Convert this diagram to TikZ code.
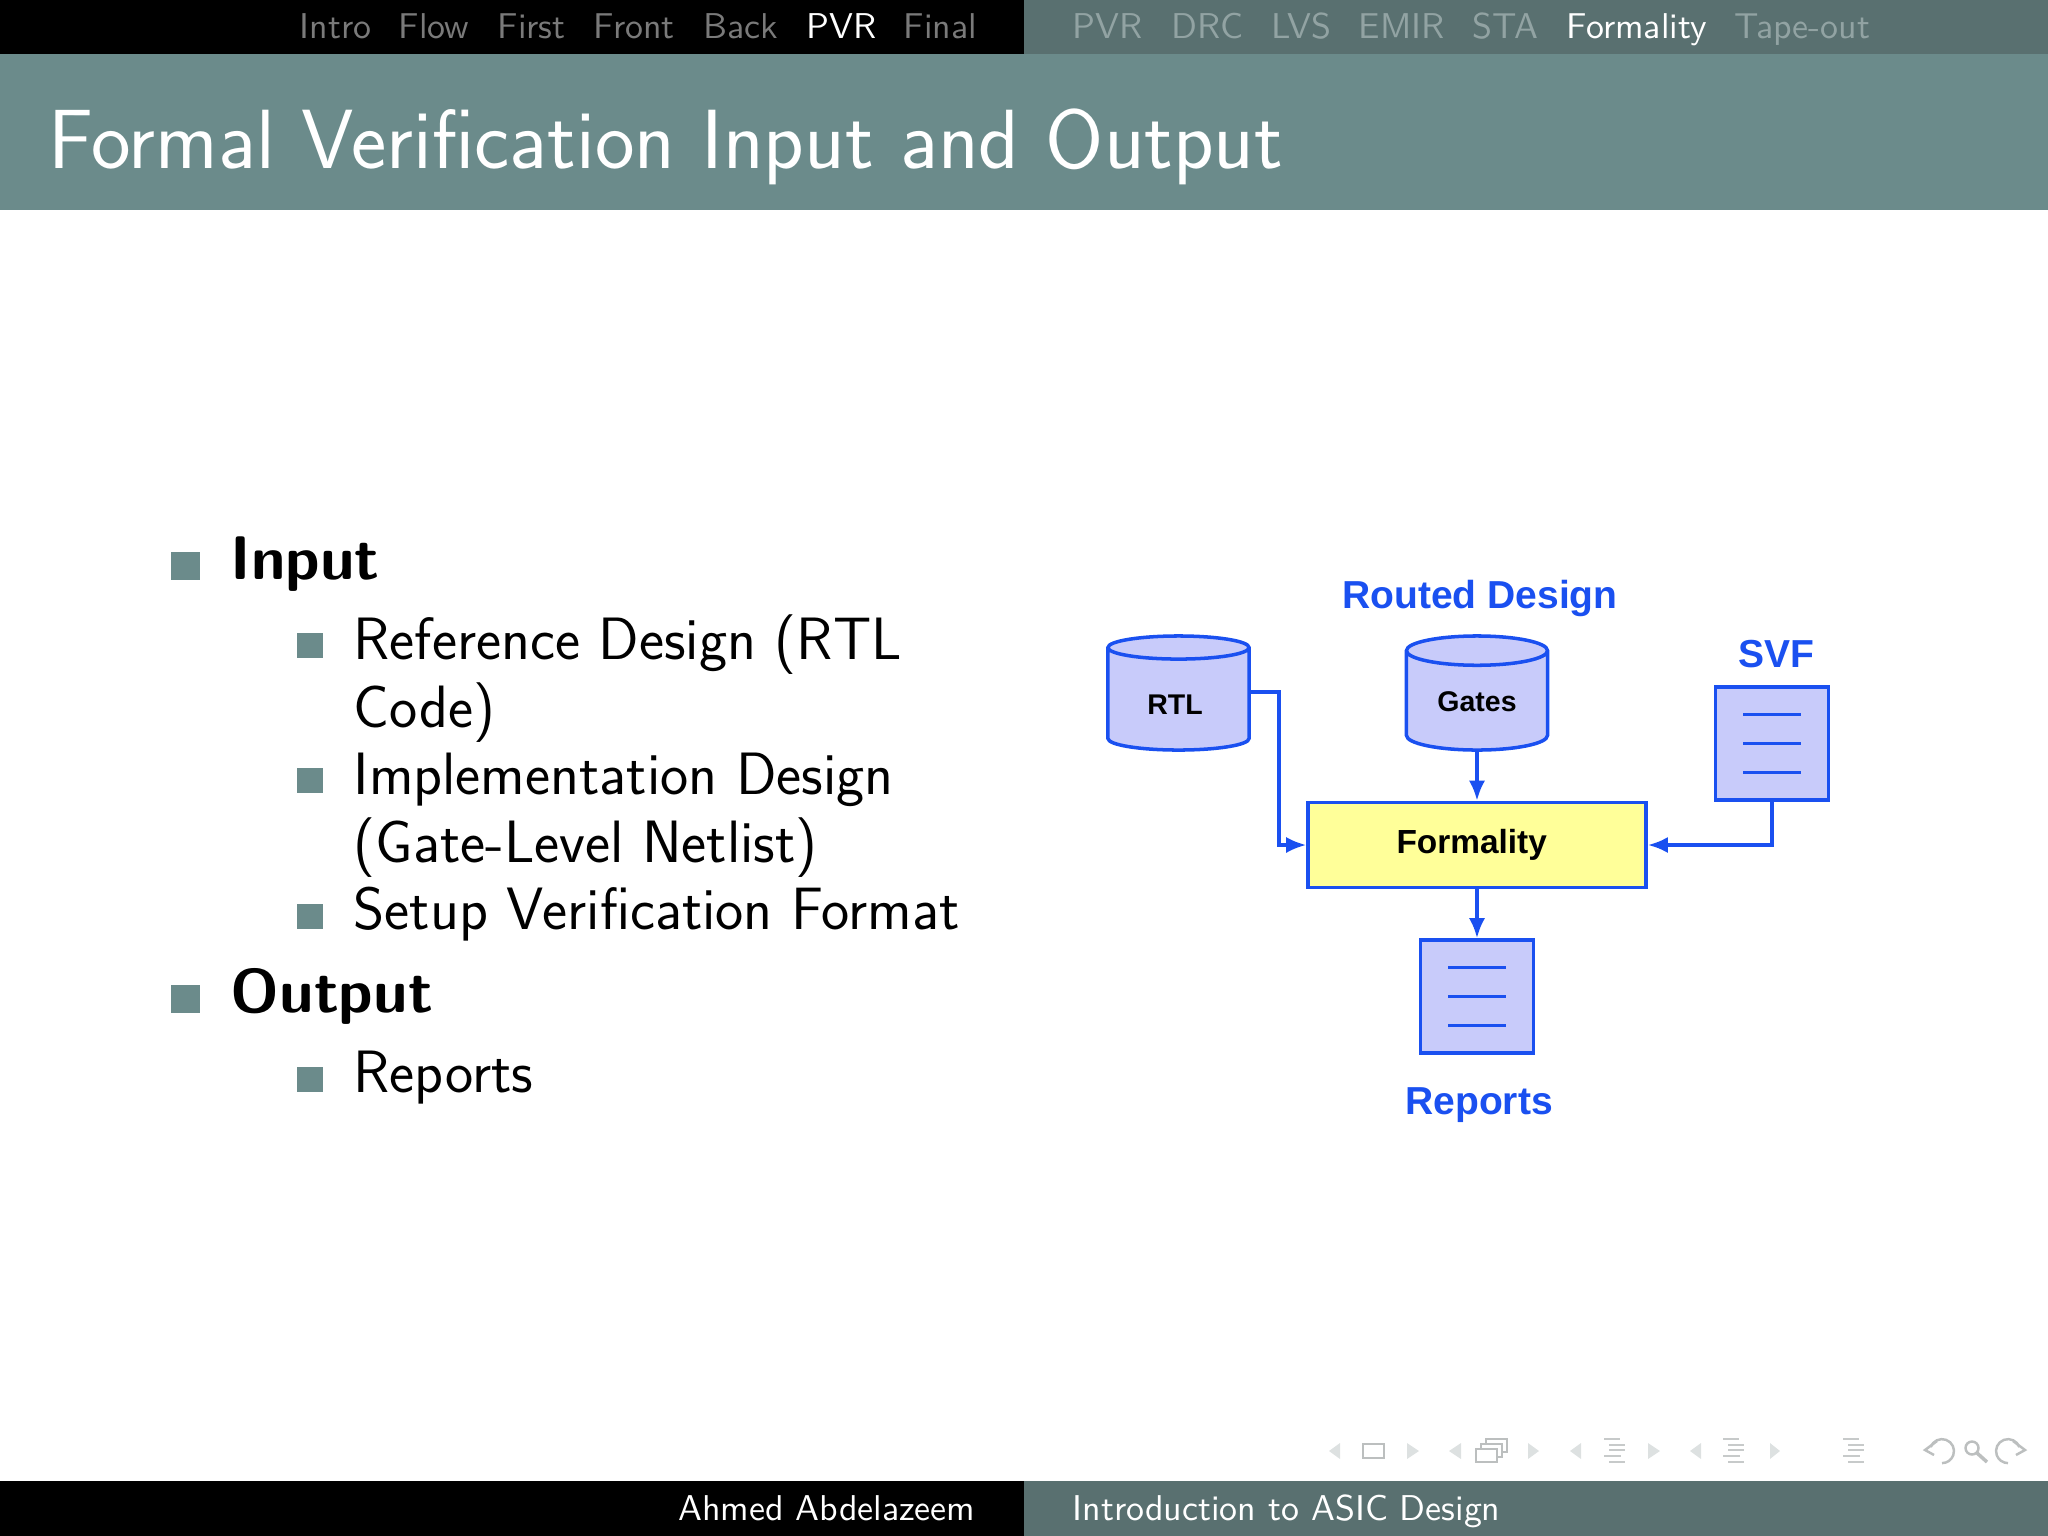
\documentclass[tikz,border=0pt]{standalone}
\usepackage{amsmath}
\usetikzlibrary{shapes.geometric,calc,arrows.meta}
\usepackage{fontspec}
\setmainfont{Latin Modern Sans}
\setsansfont{Liberation Sans}

\definecolor{headteal}{HTML}{6B8B8B}
\definecolor{barteal}{HTML}{597070}
\definecolor{navgrey}{HTML}{7A7A7A}
\definecolor{navgreyb}{HTML}{92A3A3}
\definecolor{figblue}{HTML}{1A50F0}
\definecolor{figfill}{HTML}{C8CBFA}
\definecolor{figyellow}{HTML}{FFFF99}
\definecolor{symgrey}{HTML}{DDE1E1}

\tikzset{
    navtext/.style={anchor=base west,inner sep=0,font=\fontsize{10.2}{13}\selectfont},
    foottext/.style={inner sep=0,text=white,font=\fontsize{10.2}{13}\selectfont},
    maintext/.style={anchor=base west,inner sep=0,text=black,font=\fontsize{17}{20}\selectfont},
    boldtext/.style={anchor=base west,inner sep=0,text=black,font=\fontsize{17.5}{21}\selectfont\bfseries},
    bigbullet/.style={fill=headteal,draw=none,inner sep=0,minimum size=28*0.2845pt},
    smallbullet/.style={fill=headteal,draw=none,inner sep=0,minimum size=25*0.2845pt},
    dbcyl/.style={cylinder,shape border rotate=90,aspect=0.37,anchor=shape center,draw=figblue,fill=figfill,line width=1pt,
        minimum width=141*0.2845pt,minimum height=114*0.2845pt,inner sep=0,outer sep=0,text=black,
        font=\sffamily\bfseries\fontsize{8.1}{9}\selectfont},
    docbox/.style={rectangle,draw=figblue,fill=figfill,line width=1pt,
        minimum width=113*0.2845pt,minimum height=113*0.2845pt,inner sep=0,outer sep=0},
    toolbox/.style={rectangle,draw=figblue,fill=figyellow,line width=1pt,
        minimum width=338*0.2845pt,minimum height=85*0.2845pt,inner sep=0,outer sep=0,text=black,
        font=\sffamily\bfseries\fontsize{9.5}{10}\selectfont},
    figlabel/.style={anchor=base,inner sep=0,text=figblue,font=\sffamily\bfseries\fontsize{11.1}{12}\selectfont},
    figarrow/.style={draw=figblue,line width=1pt,shorten >=0.5pt,-{Latex[length=5.7pt,width=4.6pt]}},
    docline/.style={draw=figblue,line width=0.9pt},
    navsym/.style={fill=symgrey,draw=none},
    navbox/.style={draw=symgrey!85!black,line width=0.7pt,fill=white},
    navline/.style={draw=symgrey!90!black,line width=0.8pt},
}

\begin{document}
\begin{tikzpicture}[x=0.01cm,y=-0.01cm]
    \useasboundingbox (0,0) rectangle (2048,1536);

    % bars
    \fill[black] (0,0) rectangle (1024,54);
    \fill[barteal] (1024,0) rectangle (2048,54);
    \fill[headteal] (0,54) rectangle (2048,210);
    \fill[black] (0,1481) rectangle (1024,1536);
    \fill[barteal] (1024,1481) rectangle (2048,1536);

    % headline
    \foreach \name/\xpos/\col in {Intro/299/navgrey,Flow/398/navgrey,First/497/navgrey,Front/593/navgrey,
        Back/703/navgrey,PVR/806/white,Final/903/navgrey,PVR/1072/navgreyb,DRC/1171/navgreyb,LVS/1271/navgreyb,
        EMIR/1358/navgreyb,STA/1472/navgreyb,Formality/1566/white,Tape-out/1734/navgreyb}
        \node[navtext,text=\col] at (\xpos,38) {\name};

    \node[anchor=base west,inner sep=0,text=white,font=\fontsize{23.9}{27}\selectfont] (title) at (48,168) {Formal Verification Input and Output};

    % left column
    \node[bigbullet] (inputbullet) at (185.5,565.5) {};
    \node[boldtext] (input) at (230,579) {Input};
    \node[smallbullet] (refbullet) at (310,645.5) {};
    \node[maintext] (ref) at (353,659) {Reference Design (RTL};
    \node[maintext] (refb) at (353,727) {Code)};
    \node[smallbullet] (implbullet) at (310,780.5) {};
    \node[maintext] (impl) at (353,794) {Implementation Design};
    \node[maintext] (implb) at (353,862) {(Gate-Level Netlist)};
    \node[smallbullet] (setupbullet) at (310,916) {};
    \node[maintext] (setup) at (353,929) {Setup Verification Format};
    \node[bigbullet] (outputbullet) at (185.5,998.5) {};
    \node[boldtext] (output) at (230,1012) {Output};
    \node[smallbullet] (repbullet) at (310,1079) {};
    \node[maintext] (rep) at (353,1092) {Reports};

    % flow figure
    \node[dbcyl] (rtl) at (1178.5,693) {\rule{0pt}{8.6pt}RTL\kern 2pt};
    \node[dbcyl] (gates) at (1477,693) {Gates};
    \node[docbox] (svf) at (1772,743.5) {};
    \node[toolbox] (formality) at (1477,845) {Formality\kern 3pt};
    \node[docbox] (reports) at (1477,996.5) {};

    \foreach \doc in {svf,reports}
        \foreach \dy in {-29,0,29}
            \draw[docline] ($(\doc.center)+(-29,\dy)$) -- ($(\doc.center)+(29,\dy)$);

    \node[figlabel] (routedlabel) at (1480,608) {Routed Design};
    \node[figlabel] (svflabel) at (1776,667) {SVF};
    \node[figlabel] (reportslabel) at (1479,1114) {Reports};

    \coordinate (rtlout) at (1250,692);
    \draw[figarrow,line width=0.9pt] (rtlout) -| (1279,845) -- (formality.west);
    \draw[figarrow] (gates.south) -- (formality.north);
    \draw[figarrow] (svf.south) |- (formality.east);
    \draw[figarrow] (formality.south) -- (reports.north);

    % footer
    \node[foottext,anchor=base east] (author) at (976,1520) {Ahmed Abdelazeem};
    \node[foottext,anchor=base west] (talk) at (1072,1520) {Introduction to ASIC Design};

    % navigation symbols
    \foreach \xa/\xb in {1340/1329,1461/1449,1581/1570,1701/1690,1407/1419,1528/1539,1648/1660,1770/1780}
        \fill[navsym] (\xa,1443) -- (\xb,1451) -- (\xa,1459) -- cycle;
    \draw[navbox] (1363,1444) rectangle (1384,1458);
    \foreach \dd in {10,5,0}
        \draw[navbox] ($(1476,1449)+(\dd,-\dd)$) rectangle ($(1497,1462)+(\dd,-\dd)$);
    \foreach \xs in {1604,1723,1843} {
        \foreach \yl/\xl/\xr in {1439/0/16,1445/5/21,1450/5/21,1456/0/17,1462/5/21}
            \draw[navline] ($(\xs,\yl)+(\xl,0)$) -- ($(\xs,\yl)+(\xr,0)$);
    }
    \draw[navbox,fill=none] (1930.7,1447) arc[start angle=200,end angle=450,radius=12];
    \draw[navbox,fill=none] (1937,1441) -- (1925,1450) -- (1934,1455);
    \draw[navbox,fill=none] (1972,1448) circle[radius=6.5];
    \draw[navbox,fill=none,line width=1pt] (1977,1453) -- (1987,1462);
    \draw[navbox,fill=none] (2019.3,1447) arc[start angle=-20,end angle=-270,radius=12];
    \draw[navbox,fill=none] (2013,1441) -- (2025,1450) -- (2016,1455);
\end{tikzpicture}
\end{document}
